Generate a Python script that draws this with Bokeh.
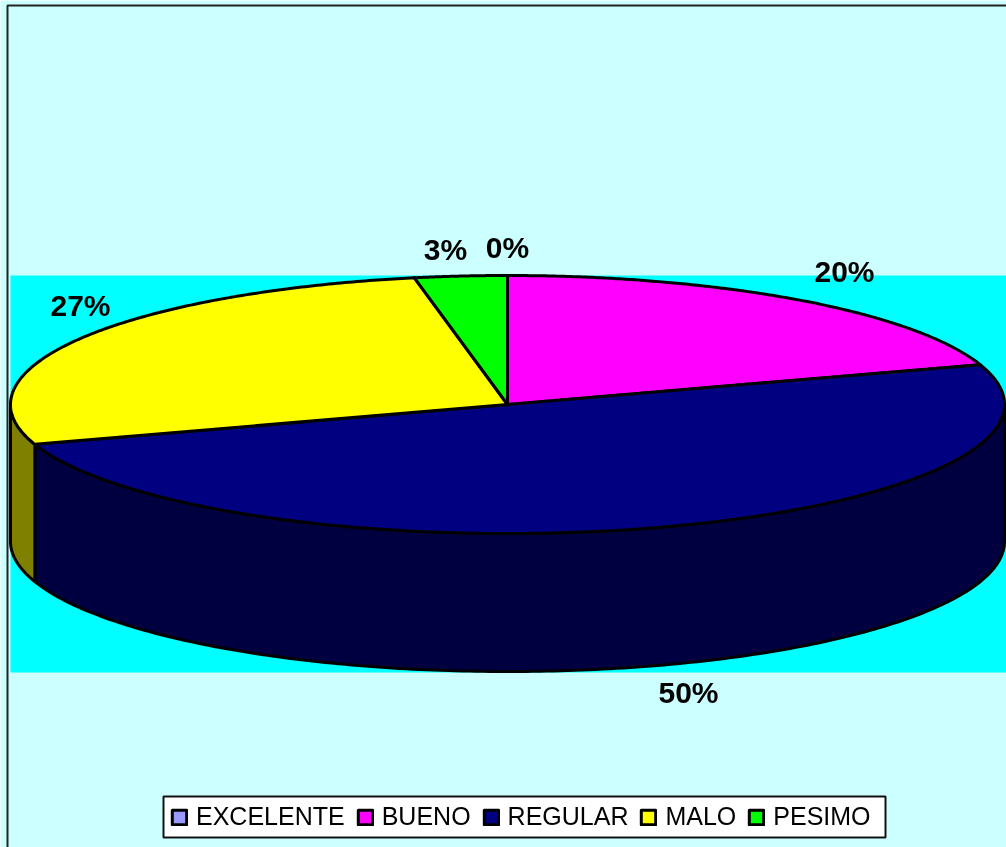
import numpy as np
from bokeh.plotting import figure
from bokeh.core.properties import value
from bokeh.embed import file_html
from bokeh.resources import INLINE

categories = ["EXCELENTE", "BUENO", "REGULAR", "MALO", "PESIMO"]
percent = [0, 20, 50, 27, 3]
top_colors = ["#9999FF", "#FF00FF", "#000080", "#FFFF00", "#00FF00"]
wall_colors = ["#4C4C80", "#800080", "#000040", "#808000", "#008000"]
label_text = ["0%", "20%", "50%", "27%", "3%"]
label_x = [507, 844, 688, 80, 445]
label_y = [247, 271, 692, 305, 249]

W, H = 1006, 847
CX, CY, RX, RY = 507, 404, 497, 129
BOT_CY, BOT_RY = 541, 130

p = figure(width=W, height=H, x_range=(0, W), y_range=(H, 0),
           output_backend="svg", toolbar_location=None, min_border=0, tools="")
p.axis.visible = False
p.grid.visible = False
p.outline_line_color = None
p.background_fill_color = "#CCFFFF"
p.border_fill_color = "#CCFFFF"
p.styles = {"position": "fixed", "left": "0px", "top": "0px"}

# plot-area band and chart frame
p.quad(left=10, right=1006, top=275, bottom=672, fill_color="#00FFFF", line_color=None)
p.line([7, 7, W], [H, 5, 5], line_color="#222222", line_width=2)
# legend box
p.quad(left=163, right=885, top=796, bottom=837, fill_color="white",
       line_color="#111111", line_width=2)


def top_pt(a):
    return CX + RX * np.sin(a), CY - RY * np.cos(a)


def bot_pt(a):
    return CX + RX * np.sin(a), BOT_CY - BOT_RY * np.cos(a)


edges = np.cumsum([0] + percent) / 100 * 2 * np.pi

for i in range(len(percent)):
    a0, a1 = max(edges[i], np.pi / 2), min(edges[i + 1], 3 * np.pi / 2)
    if a1 <= a0:
        continue
    t = np.linspace(a0, a1, 200)
    xt, yt = top_pt(t)
    xb, yb = bot_pt(t[::-1])
    p.patch(np.r_[xt, xb], np.r_[yt, yb], fill_color=wall_colors[i],
            line_color="black", line_width=3, line_join="round")

for i, name in enumerate(categories):
    t = np.linspace(edges[i], edges[i + 1], 200)
    xt, yt = top_pt(t)
    p.patch(np.r_[CX, xt], np.r_[CY, yt], fill_color=top_colors[i],
            line_color="black", line_width=3, line_join="round",
            legend_label=name)

p.text(x=label_x, y=label_y, text=label_text, text_align="center",
       text_baseline="middle", text_color="black",
       text_font=value("Liberation Sans"), text_font_style="bold",
       text_font_size="30px")

leg = p.legend[0]
leg.orientation = "horizontal"
leg.location = (170, H - 831)
leg.label_text_font = "Liberation Sans"
leg.label_text_font_size = "25px"
leg.label_text_color = "black"
leg.glyph_width = 18
leg.glyph_height = 18
leg.label_standoff = 8
leg.spacing = 11
leg.padding = 5
leg.margin = 0
leg.label_height = 24
leg.background_fill_alpha = 0
leg.border_line_color = None

open("out.html", "w").write(file_html(p, INLINE))
